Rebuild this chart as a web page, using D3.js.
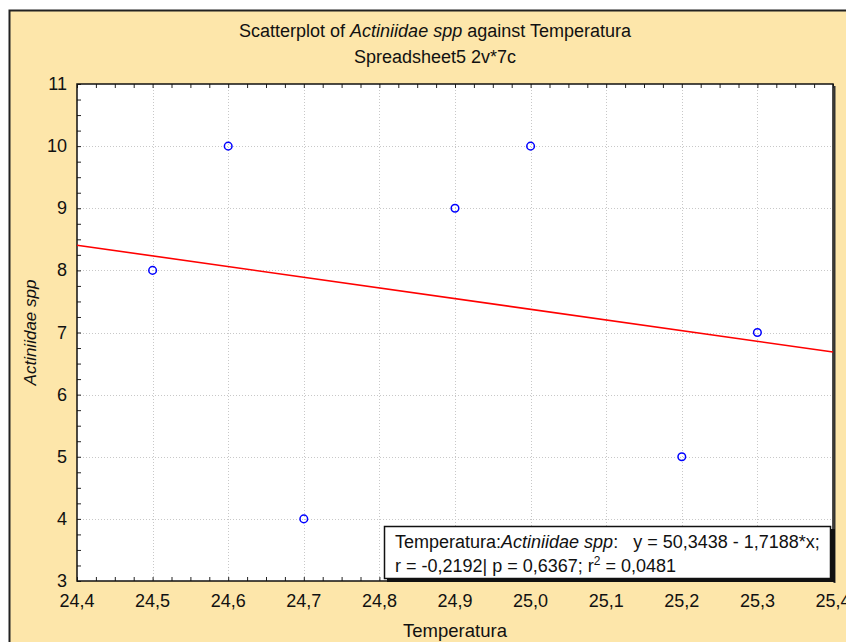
<!DOCTYPE html>
<html>
<head>
<meta charset="utf-8">
<script src="https://cdn.jsdelivr.net/npm/d3@7"></script>
<style>
  html, body { margin: 0; padding: 0; background: #ffffff; }
  svg { display: block; }
</style>
</head>
<body>
<div id="chart"></div>
<script>
// data
var temperatura = [24.5, 24.6, 24.7, 24.9, 25.0, 25.2, 25.3];
var actiniidae = [8, 10, 4, 9, 10, 5, 7];
var xTicks = [24.4, 24.5, 24.6, 24.7, 24.8, 24.9, 25.0, 25.1, 25.2, 25.3, 25.4];
var yTicks = [3, 4, 5, 6, 7, 8, 9, 10, 11];
var fitIntercept = 50.3438;
var fitSlope = -1.7188;

var width = 846, height = 642;
var plotLeft = 77, plotRight = 833, plotTop = 84, plotBottom = 581;
var bg = '#fde6aa';
var font = '"Liberation Sans", Arial, sans-serif';

var svg = d3.select('#chart')
  .append('svg')
  .attr('width', width)
  .attr('height', height);

// outer frame
svg.append('rect')
  .attr('x', 9.5)
  .attr('y', 10.5)
  .attr('width', 880)
  .attr('height', 700)
  .attr('fill', bg)
  .attr('stroke', '#222')
  .attr('stroke-width', 2);

var x = d3.scaleLinear().domain([24.4, 25.4]).range([plotLeft, plotRight]);
var y = d3.scaleLinear().domain([3, 11]).range([plotBottom, plotTop]);

// plot area
svg.append('rect')
  .attr('x', plotLeft)
  .attr('y', plotTop)
  .attr('width', plotRight - plotLeft)
  .attr('height', plotBottom - plotTop)
  .attr('fill', '#ffffff');

// grid
var grid = svg.append('g')
  .attr('stroke', '#c8c8c8')
  .attr('stroke-width', 1)
  .attr('stroke-dasharray', '1,2');

grid.selectAll('.gx')
  .data(xTicks.slice(1, -1))
  .enter().append('line')
  .attr('x1', function (d) { return Math.round(x(d)) + 0.5; })
  .attr('x2', function (d) { return Math.round(x(d)) + 0.5; })
  .attr('y1', plotTop)
  .attr('y2', plotBottom);

grid.selectAll('.gy')
  .data(yTicks.slice(1, -1))
  .enter().append('line')
  .attr('y1', function (d) { return Math.round(y(d)) + 0.5; })
  .attr('y2', function (d) { return Math.round(y(d)) + 0.5; })
  .attr('x1', plotLeft)
  .attr('x2', plotRight);

// axes with inner minor ticks
var fmt = function (d) { return d3.format('.1f')(d).replace('.', ','); };

var xMinor = d3.range(24.4, 25.4001, 0.025);
var yMinor = d3.range(3, 11.001, 0.25);

var xAxis = svg.append('g')
  .attr('transform', 'translate(0,' + plotBottom + ')')
  .call(d3.axisBottom(x).tickValues(xMinor).tickSize(-4).tickFormat(''));
var xTop = svg.append('g')
  .attr('transform', 'translate(0,' + plotTop + ')')
  .call(d3.axisTop(x).tickValues(xMinor).tickSize(-4).tickFormat(''));
var yAxis = svg.append('g')
  .attr('transform', 'translate(' + plotLeft + ',0)')
  .call(d3.axisLeft(y).tickValues(yMinor).tickSize(-4).tickFormat(''));

[xAxis, xTop, yAxis].forEach(function (a) {
  a.select('.domain').remove();
  a.selectAll('line').attr('stroke', '#222');
});

svg.append('g').selectAll('text')
  .data(xTicks)
  .enter().append('text')
  .attr('x', function (d) { return x(d); })
  .attr('y', plotBottom + 26)
  .attr('text-anchor', 'middle')
  .attr('font-family', font)
  .attr('font-size', '18px')
  .attr('fill', '#111')
  .text(fmt);

svg.append('g').selectAll('text')
  .data(yTicks)
  .enter().append('text')
  .attr('x', plotLeft - 10)
  .attr('y', function (d) { return y(d) + 6; })
  .attr('text-anchor', 'end')
  .attr('font-family', font)
  .attr('font-size', '18px')
  .attr('fill', '#111')
  .text(function (d) { return d; });

// plot border, heavier on the right like the original
svg.append('rect')
  .attr('x', plotLeft)
  .attr('y', plotTop)
  .attr('width', plotRight - plotLeft)
  .attr('height', plotBottom - plotTop)
  .attr('fill', 'none')
  .attr('stroke', '#111')
  .attr('stroke-width', 1.5);
svg.append('line')
  .attr('x1', plotRight + 1.5)
  .attr('x2', plotRight + 1.5)
  .attr('y1', plotTop + 2)
  .attr('y2', plotBottom + 2)
  .attr('stroke', '#333')
  .attr('stroke-width', 2);

// regression line
svg.append('line')
  .attr('x1', x(24.4))
  .attr('y1', y(fitIntercept + fitSlope * 24.4))
  .attr('x2', x(25.4))
  .attr('y2', y(fitIntercept + fitSlope * 25.4))
  .attr('stroke', '#ff0000')
  .attr('stroke-width', 1.6);

// points
svg.append('g').selectAll('circle')
  .data(temperatura)
  .enter().append('circle')
  .attr('cx', function (d) { return x(d); })
  .attr('cy', function (d, i) { return y(actiniidae[i]); })
  .attr('r', 3.8)
  .attr('fill', 'none')
  .attr('stroke', '#0000ff')
  .attr('stroke-width', 1.5);

// titles
var title = svg.append('text')
  .attr('x', 435)
  .attr('y', 37)
  .attr('text-anchor', 'middle')
  .attr('font-family', font)
  .attr('font-size', '18px')
  .attr('fill', '#111');
title.append('tspan').text('Scatterplot of ');
title.append('tspan').attr('font-style', 'italic').text('Actiniidae spp');
title.append('tspan').text(' against Temperatura');

svg.append('text')
  .attr('x', 435)
  .attr('y', 63)
  .attr('text-anchor', 'middle')
  .attr('font-family', font)
  .attr('font-size', '18px')
  .attr('fill', '#111')
  .text('Spreadsheet5 2v*7c');

svg.append('text')
  .attr('x', (plotLeft + plotRight) / 2)
  .attr('y', 637)
  .attr('text-anchor', 'middle')
  .attr('font-family', font)
  .attr('font-size', '18.5px')
  .attr('fill', '#111')
  .text('Temperatura');

svg.append('text')
  .attr('transform', 'translate(36,' + (plotTop + plotBottom) / 2 + ') rotate(-90)')
  .attr('text-anchor', 'middle')
  .attr('font-family', font)
  .attr('font-size', '17px')
  .attr('font-style', 'italic')
  .attr('fill', '#111')
  .text('Actiniidae spp');

// legend box with shadow
var lg = svg.append('g');
lg.append('rect')
  .attr('x', 387)
  .attr('y', 529)
  .attr('width', 448)
  .attr('height', 53)
  .attr('fill', '#111');
lg.append('rect')
  .attr('x', 384.5)
  .attr('y', 526.5)
  .attr('width', 446)
  .attr('height', 52)
  .attr('fill', '#ffffff')
  .attr('stroke', '#111')
  .attr('stroke-width', 1.5);

var l1 = lg.append('text')
  .attr('x', 395)
  .attr('y', 548)
  .attr('font-family', font)
  .attr('font-size', '18px')
  .attr('fill', '#111')
  .attr('xml:space', 'preserve');
l1.append('tspan').text('Temperatura:');
l1.append('tspan').attr('font-style', 'italic').text('Actiniidae spp');
l1.append('tspan').text(':   y = 50,3438 - 1,7188*x;');

var l2 = lg.append('text')
  .attr('x', 395)
  .attr('y', 572)
  .attr('font-family', font)
  .attr('font-size', '18px')
  .attr('fill', '#111');
l2.append('tspan').text('r = -0,2192| p = 0,6367; r');
l2.append('tspan').attr('dy', -7).attr('font-size', '12px').text('2');
l2.append('tspan').attr('dy', 7).text(' = 0,0481');
</script>
</body>
</html>
